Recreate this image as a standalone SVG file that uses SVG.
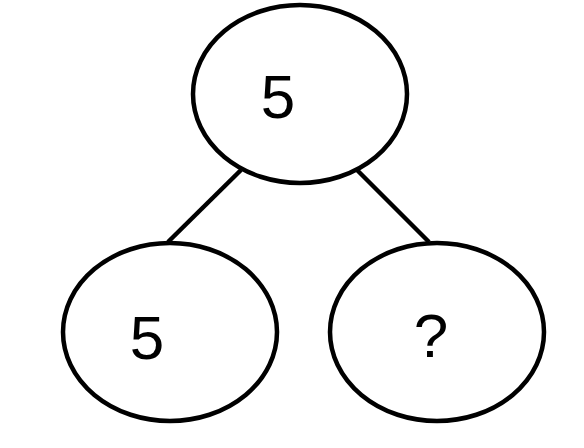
<svg xmlns="http://www.w3.org/2000/svg" width="584" height="448" viewBox="0 0 584 448">
<style>
.n{fill:#fff;stroke:#000;stroke-width:4.5}
.e{stroke:#000;stroke-width:4.5;fill:none}
.t{font-family:"Liberation Sans",Arial,sans-serif;font-size:62px;fill:#000;text-anchor:middle}
</style>
<rect width="584" height="448" fill="#fff"/>
<g id="edges">
<line class="e" x1="241" y1="170" x2="168" y2="242"/>
<line class="e" x1="357" y1="170" x2="429" y2="242"/>
</g>
<g id="root">
<ellipse class="n" cx="300" cy="94" rx="107" ry="89"/>
<text class="t" x="278" y="118">5</text>
</g>
<g id="left">
<ellipse class="n" cx="170" cy="332" rx="107" ry="89"/>
<text class="t" x="147" y="359">5</text>
</g>
<g id="right">
<ellipse class="n" cx="437" cy="332" rx="107" ry="89"/>
<text class="t" x="431" y="357">?</text>
</g>
</svg>
